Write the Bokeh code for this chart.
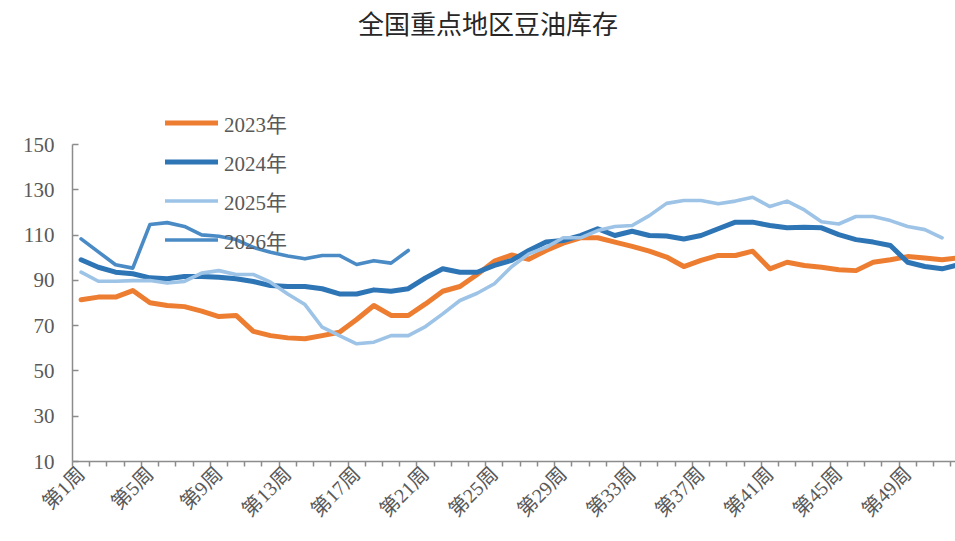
import math
from bokeh.plotting import figure
from bokeh.models import FixedTicker, Label, Range1d
from bokeh.embed import file_html
from bokeh.resources import INLINE

title = "全国重点地区豆油库存"
series_names = ["2023年", "2024年", "2025年", "2026年"]

s2023 = [81.4, 82.6, 82.6, 85.5, 80.1, 78.9, 78.4, 76.4, 74.0, 74.5,
         67.5, 65.6, 64.6, 64.2, 65.6, 67.1, 72.7, 78.9, 74.5, 74.5,
         79.6, 85.2, 87.3, 92.6, 98.5, 101.2, 99.3, 103.2, 106.4, 108.8,
         108.8, 106.9, 105.0, 102.9, 100.3, 96.1, 98.8, 101.0, 101.0, 102.9,
         95.1, 98.0, 96.6, 95.8, 94.7, 94.3, 98.0, 99.1, 100.5, 99.9,
         99.1, 100.0]
s2024 = [99.1, 95.8, 93.6, 92.9, 91.1, 90.7, 91.7, 91.7, 91.4, 90.7,
         89.5, 87.7, 87.3, 87.3, 86.3, 84.0, 84.0, 85.8, 85.2, 86.3,
         91.1, 95.1, 93.6, 93.6, 96.6, 98.8, 103.2, 106.9, 107.6, 109.8,
         112.8, 109.8, 111.7, 109.8, 109.6, 108.3, 109.8, 112.8, 115.7, 115.7,
         114.2, 113.2, 113.5, 113.2, 110.2, 108.0, 106.9, 105.4, 98.0, 96.1,
         95.1, 97.0]
s2025 = [93.6, 89.6, 89.6, 89.9, 89.9, 88.8, 89.5, 93.2, 94.3, 92.6,
         92.6, 89.2, 84.0, 79.3, 69.3, 65.6, 62.0, 62.7, 65.6, 65.6,
         69.6, 75.2, 81.1, 84.3, 88.5, 96.0, 101.7, 104.6, 108.8, 108.8,
         112.0, 113.8, 114.2, 118.6, 124.0, 125.3, 125.3, 123.8, 125.0, 126.7,
         122.6, 125.0, 121.1, 115.9, 114.9, 118.2, 118.2, 116.4, 113.8, 112.4,
         108.8]
s2026 = [108.3, 102.6, 96.9, 95.4, 114.7, 115.5, 113.8, 110.1, 109.5, 108.0,
         104.6, 102.4, 100.8, 99.5, 101.0, 101.0, 97.0, 98.7, 97.6, 103.2]

y_ticks = [10, 30, 50, 70, 90, 110, 130, 150]
x_label_weeks = [1, 5, 9, 13, 17, 21, 25, 29, 33, 37, 41, 45, 49]
x_labels = ["第%d周" % w for w in x_label_weeks]
n_weeks = 52

FONT = "'Liberation Serif', 'Times New Roman', 'Noto Sans CJK SC'"
AXIS_COLOR = "#8c8c8c"
TEXT_COLOR = "#595959"

p = figure(width=955, height=533,
           x_range=Range1d(0.5, 51.78), y_range=Range1d(10, 213.6),
           output_backend="svg", toolbar_location=None,
           min_border_left=72, min_border_right=0,
           min_border_top=0, min_border_bottom=72)
p.xgrid.visible = False
p.ygrid.visible = False
p.outline_line_color = None

styles = [
    (s2023, "#ED7D31", 5),
    (s2024, "#2E75B6", 5),
    (s2025, "#9DC3E6", 3.6),
    (s2026, "#4A8BC6", 3.6),
]
for (vals, color, lw), name in zip(styles, series_names):
    weeks = list(range(1, len(vals) + 1))
    p.line(weeks, vals, line_color=color, line_width=lw,
           line_cap="round", line_join="round", legend_label=name)

# y axis
ya = p.yaxis[0]
ya.ticker = FixedTicker(ticks=y_ticks)
ya.bounds = (10, 150)
ya.axis_line_color = AXIS_COLOR
ya.axis_line_width = 1.5
ya.major_tick_line_color = AXIS_COLOR
ya.major_tick_line_width = 1.5
ya.major_tick_in = 6
ya.major_tick_out = 0
ya.minor_tick_in = 0
ya.minor_tick_out = 0
ya.major_label_text_font = FONT
ya.major_label_text_font_size = "21px"
ya.major_label_text_color = TEXT_COLOR
ya.major_label_standoff = 18

# x axis
xa = p.xaxis[0]
xa.ticker = FixedTicker(ticks=x_label_weeks,
                        minor_ticks=[i + 0.5 for i in range(n_weeks + 1)])
xa.major_label_overrides = {w: lab for w, lab in zip(x_label_weeks, x_labels)}
xa.axis_line_color = AXIS_COLOR
xa.axis_line_width = 1.5
xa.major_tick_in = 0
xa.major_tick_out = 0
xa.minor_tick_in = 0
xa.minor_tick_out = 5
xa.minor_tick_line_color = AXIS_COLOR
xa.minor_tick_line_width = 1.5
xa.major_label_orientation = math.pi / 4
xa.major_label_text_font = FONT
xa.major_label_text_font_size = "20px"
xa.major_label_text_color = TEXT_COLOR
xa.major_label_standoff = 4

# legend
lg = p.legend[0]
lg.location = (93, 202)
lg.orientation = "vertical"
lg.background_fill_alpha = 0
lg.border_line_color = None
lg.padding = 0
lg.margin = 0
lg.spacing = 0
lg.glyph_width = 53
lg.glyph_height = 39
lg.label_height = 39
lg.label_standoff = 6
lg.label_text_font = FONT
lg.label_text_font_size = "21px"
lg.label_text_color = TEXT_COLOR

# title
p.add_layout(Label(x=24.63, y=202.5, text=title, text_align="center",
                   text_baseline="middle", text_font=FONT,
                   text_font_size="26px", text_color="#262626"))

open("out.html", "w").write(file_html(p, INLINE))
